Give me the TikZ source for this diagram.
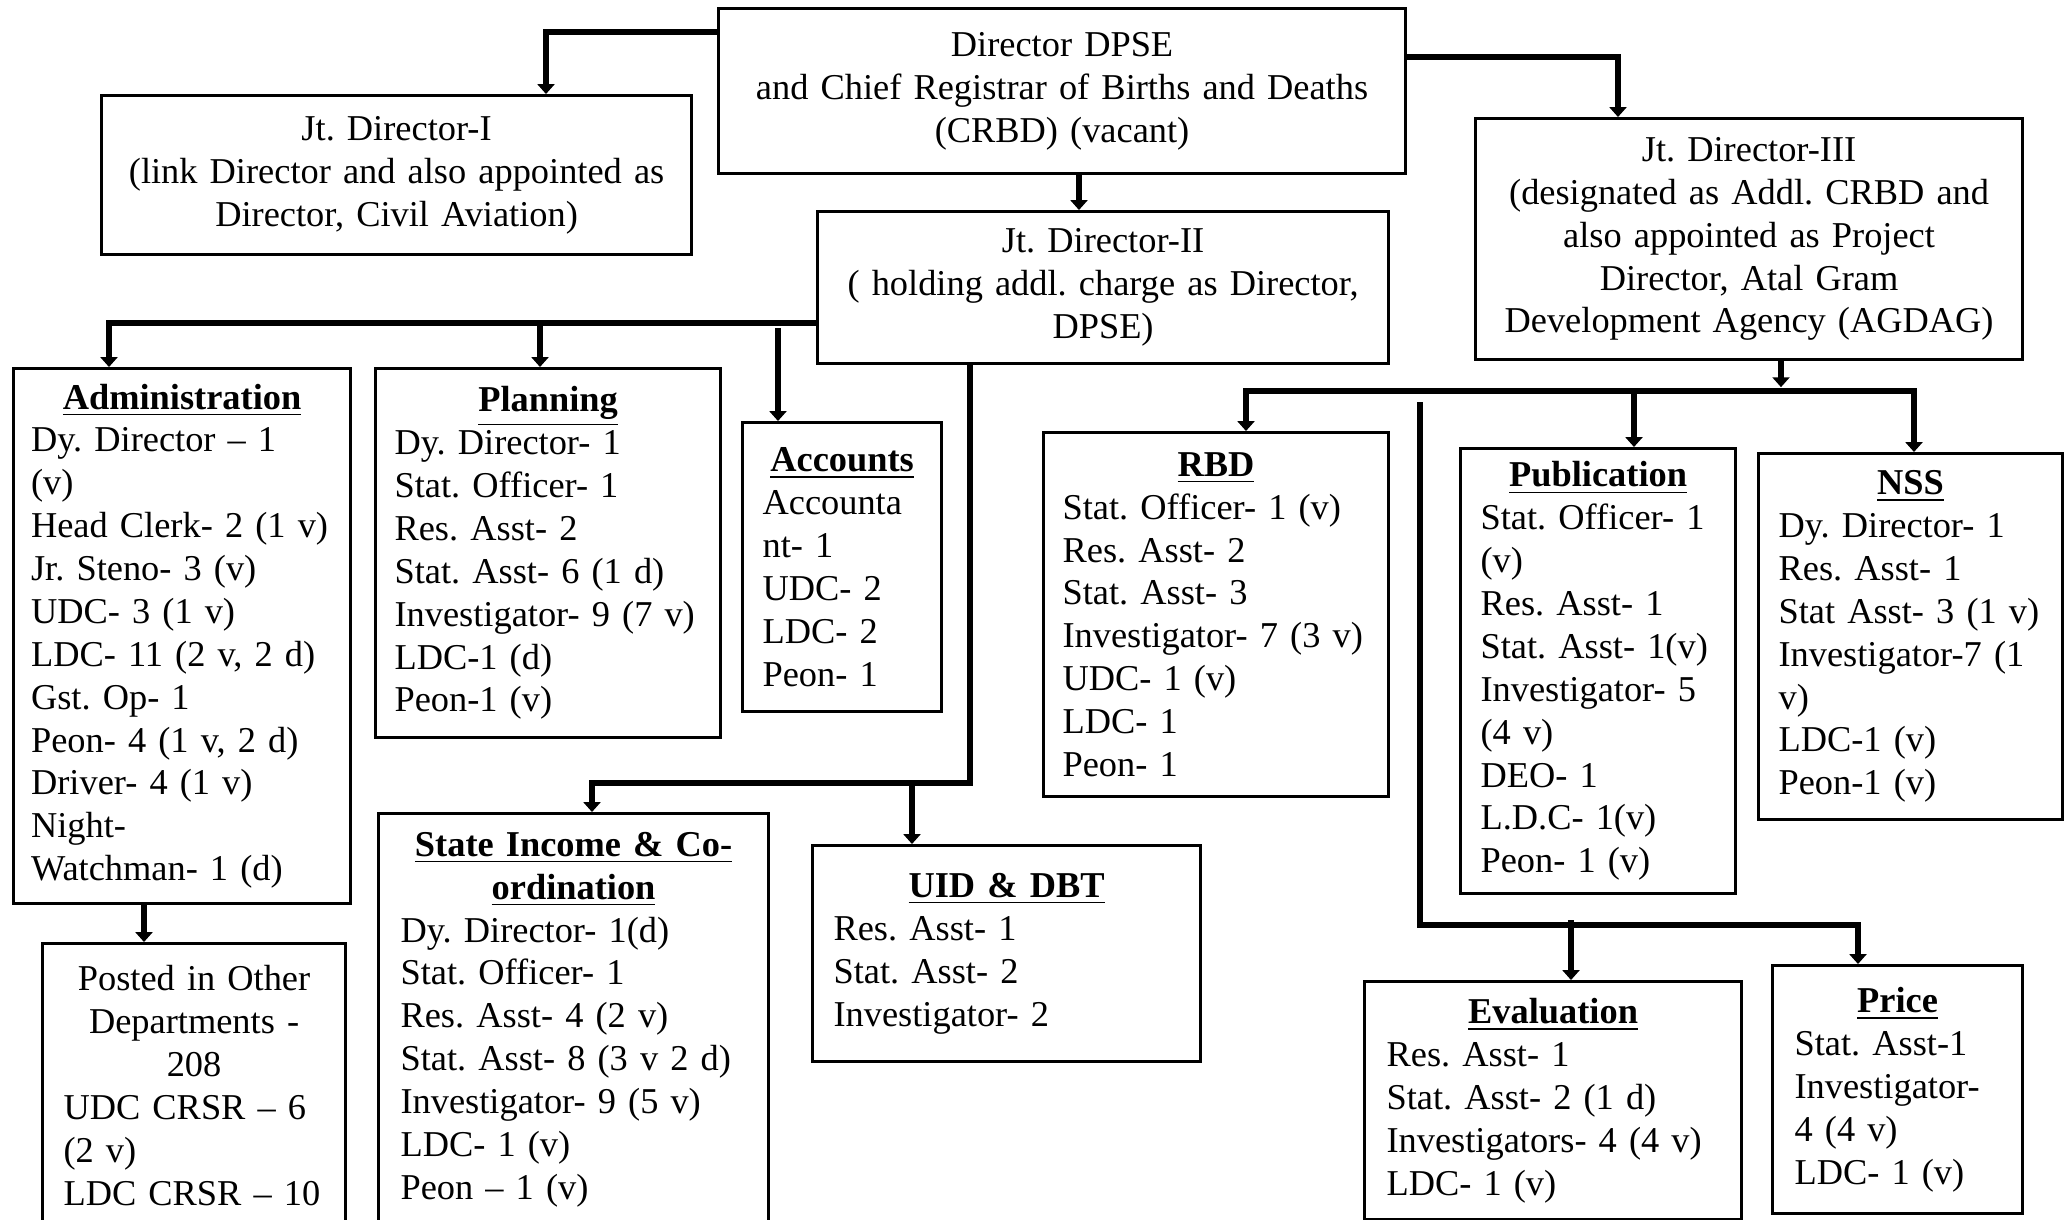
\documentclass[tikz,border=0pt]{standalone}
\usepackage{fontspec}
\setmainfont{Liberation Serif}
\usetikzlibrary{arrows.meta,calc}
\newcommand{\hd}[1]{\makebox[\linewidth]{\textbf{\underline{#1}}}\\}
\tikzset{
  box/.style={draw, line width=0.9pt, inner sep=0pt, anchor=north west,
    font=\fontsize{10.35}{12.2}\selectfont\frenchspacing},
  unit/.style={box, align=left},
  post/.style={box, align=center},
  conn/.style={line width=1.8pt, -{Triangle[width=4.8pt,length=2.8pt]}}
}
\begin{document}
\begin{tikzpicture}[x=0.1mm, y=-0.1mm]
\useasboundingbox (0,0) rectangle (2064,1219);
\fill[white] (0,0) rectangle (2064,1219);
\clip (0,0) rectangle (2064,1219);

% top posts
\node[post, minimum width=68.7mm, minimum height=16.5mm, text width=64mm] (dir) at (717,7)
  {Director DPSE\\ and Chief Registrar of Births and Deaths\\ (CRBD) (vacant)};
\node[post, minimum width=59mm, minimum height=15.9mm, text width=55mm] (jd1) at (100,94)
  {Jt. Director-I\\ (link Director and also appointed as\\ Director, Civil Aviation)};
\node[post, minimum width=57.1mm, minimum height=15.2mm, text width=54mm] (jd2) at (816,210)
  {Jt. Director-II\\ ( holding addl. charge as Director,\\ DPSE)};
\node[post, minimum width=54.7mm, minimum height=24.1mm, text width=52mm] (jd3) at (1474,117)
  {Jt. Director-III\\ (designated as Addl. CRBD and\\ also appointed as Project\\ Director, Atal Gram\\ Development Agency (AGDAG)};

% sections
\node[unit, minimum width=33.7mm, minimum height=53.5mm, text width=30.2mm] (adm) at (12,367)
  {\hd{Administration}Dy. Director -- 1\\ (v)\\ Head Clerk- 2 (1 v)\\ Jr. Steno- 3 (v)\\ UDC- 3 (1 v)\\
   LDC- 11 (2 v, 2 d)\\ Gst. Op- 1\\ Peon- 4 (1 v, 2 d)\\ Driver- 4 (1 v)\\ Night-\\ Watchman- 1 (d)};
\node[unit, minimum width=34.5mm, minimum height=36.9mm, text width=30.7mm] (plan) at (374,367)
  {\hd{Planning}Dy. Director- 1\\ Stat. Officer- 1\\ Res. Asst- 2\\ Stat. Asst- 6 (1 d)\\
   Investigator- 9 (7 v)\\ LDC-1 (d)\\ Peon-1 (v)};
\node[unit, minimum width=19.9mm, minimum height=28.9mm, text width=15.9mm] (acc) at (741,421)
  {\hd{Accounts}Accounta\\ nt- 1\\ UDC- 2\\ LDC- 2\\ Peon- 1};
\node[unit, minimum width=34.5mm, minimum height=36.4mm, text width=30.7mm] (rbd) at (1042,431)
  {\hd{RBD}Stat. Officer- 1 (v)\\ Res. Asst- 2\\ Stat. Asst- 3\\ Investigator- 7 (3 v)\\
   UDC- 1 (v)\\ LDC- 1\\ Peon- 1};
\node[unit, minimum width=27.5mm, minimum height=44.5mm, text width=23.5mm] (pub) at (1459,447)
  {\hd{Publication}Stat. Officer- 1\\ (v)\\ Res. Asst- 1\\ Stat. Asst- 1(v)\\ Investigator- 5\\
   (4 v)\\ DEO- 1\\ L.D.C- 1(v)\\ Peon- 1 (v)};
\node[unit, minimum width=30.4mm, minimum height=36.6mm, text width=26.4mm] (nss) at (1757,452)
  {\hd{NSS}Dy. Director- 1\\ Res. Asst- 1\\ Stat Asst- 3 (1 v)\\ Investigator-7 (1\\ v)\\
   LDC-1 (v)\\ Peon-1 (v)};
\node[unit, minimum width=30.3mm, minimum height=28.4mm, text width=26.1mm] (pst) at (41,942)
  {\makebox[\linewidth]{Posted in Other}\\ \makebox[\linewidth]{Departments -}\\
   \makebox[\linewidth]{208}\\ UDC CRSR -- 6\\ (2 v)\\ LDC CRSR -- 10};
\node[unit, minimum width=39mm, minimum height=41.2mm, text width=34.6mm] (sic) at (377,812)
  {\hd{State Income \& Co-}\hd{ordination}Dy. Director- 1(d)\\ Stat. Officer- 1\\ Res. Asst- 4 (2 v)\\
   Stat. Asst- 8 (3 v 2 d)\\ Investigator- 9 (5 v)\\ LDC- 1 (v)\\ Peon -- 1 (v)};
\node[unit, minimum width=38.8mm, minimum height=21.6mm, text width=34.6mm] (uid) at (811,844)
  {\hd{UID \& DBT}Res. Asst- 1\\ Stat. Asst- 2\\ Investigator- 2};
\node[unit, minimum width=37.7mm, minimum height=23.8mm, text width=33.3mm] (eva) at (1363,980)
  {\hd{Evaluation}Res. Asst- 1\\ Stat. Asst- 2 (1 d)\\ Investigators- 4 (4 v)\\ LDC- 1 (v)};
\node[unit, minimum width=25mm, minimum height=24.8mm, text width=20.6mm] (pri) at (1771,964)
  {\hd{Price}Stat. Asst-1\\ Investigator-\\ 4 (4 v)\\ LDC- 1 (v)};

% director to joint directors
\draw[conn] ($(dir.north west)+(0,25)$) -| ($(jd1.north west)+(446,0)$);
\draw[conn] ($(dir.north east)+(0,50)$) -| ($(jd3.north west)+(144,0)$);
\draw[conn] ($(dir.south west)+(362,0)$) -- ($(jd2.north west)+(263,0)$);

% jt. director-II
\coordinate (b2) at ($(jd2.north west)+(0,113)$);
\draw[conn] (b2) -| ($(adm.north west)+(97,0)$);
\draw[conn] ($(plan.north west)+(166,-44)$) -- ($(plan.north west)+(166,0)$);
\draw[conn] ($(acc.north west)+(37,-93)$) -- ($(acc.north west)+(37,0)$);
\draw[conn] ($(jd2.south west)+(154,0)$) |- ($(sic.north west)+(215,-29)$) -- ($(sic.north west)+(215,0)$);
\draw[conn] ($(uid.north west)+(101,-61)$) -- ($(uid.north west)+(101,0)$);
\draw[conn] ($(adm.south west)+(132,0)$) -- ($(pst.north west)+(103,0)$);

% jt. director-III
\coordinate (b3) at ($(jd3.south west)+(307,30)$);
\draw[conn] ($(jd3.south west)+(307,0)$) -- ($(b3)+(0,-4)$);
\draw[conn] (b3) -| ($(rbd.north west)+(204,0)$);
\draw[conn] (b3) -| ($(nss.north west)+(157,0)$);
\draw[conn] ($(pub.north west)+(175,-59)$) -- ($(pub.north west)+(175,0)$);
\coordinate (e0) at ($(rbd.north east)+(30,-29)$);
\draw[conn] (e0) |- ($(pri.north west)+(87,-39)$) -- ($(pri.north west)+(87,0)$);
\draw[conn] ($(eva.north west)+(208,-60)$) -- ($(eva.north west)+(208,0)$);
\end{tikzpicture}
\end{document}
